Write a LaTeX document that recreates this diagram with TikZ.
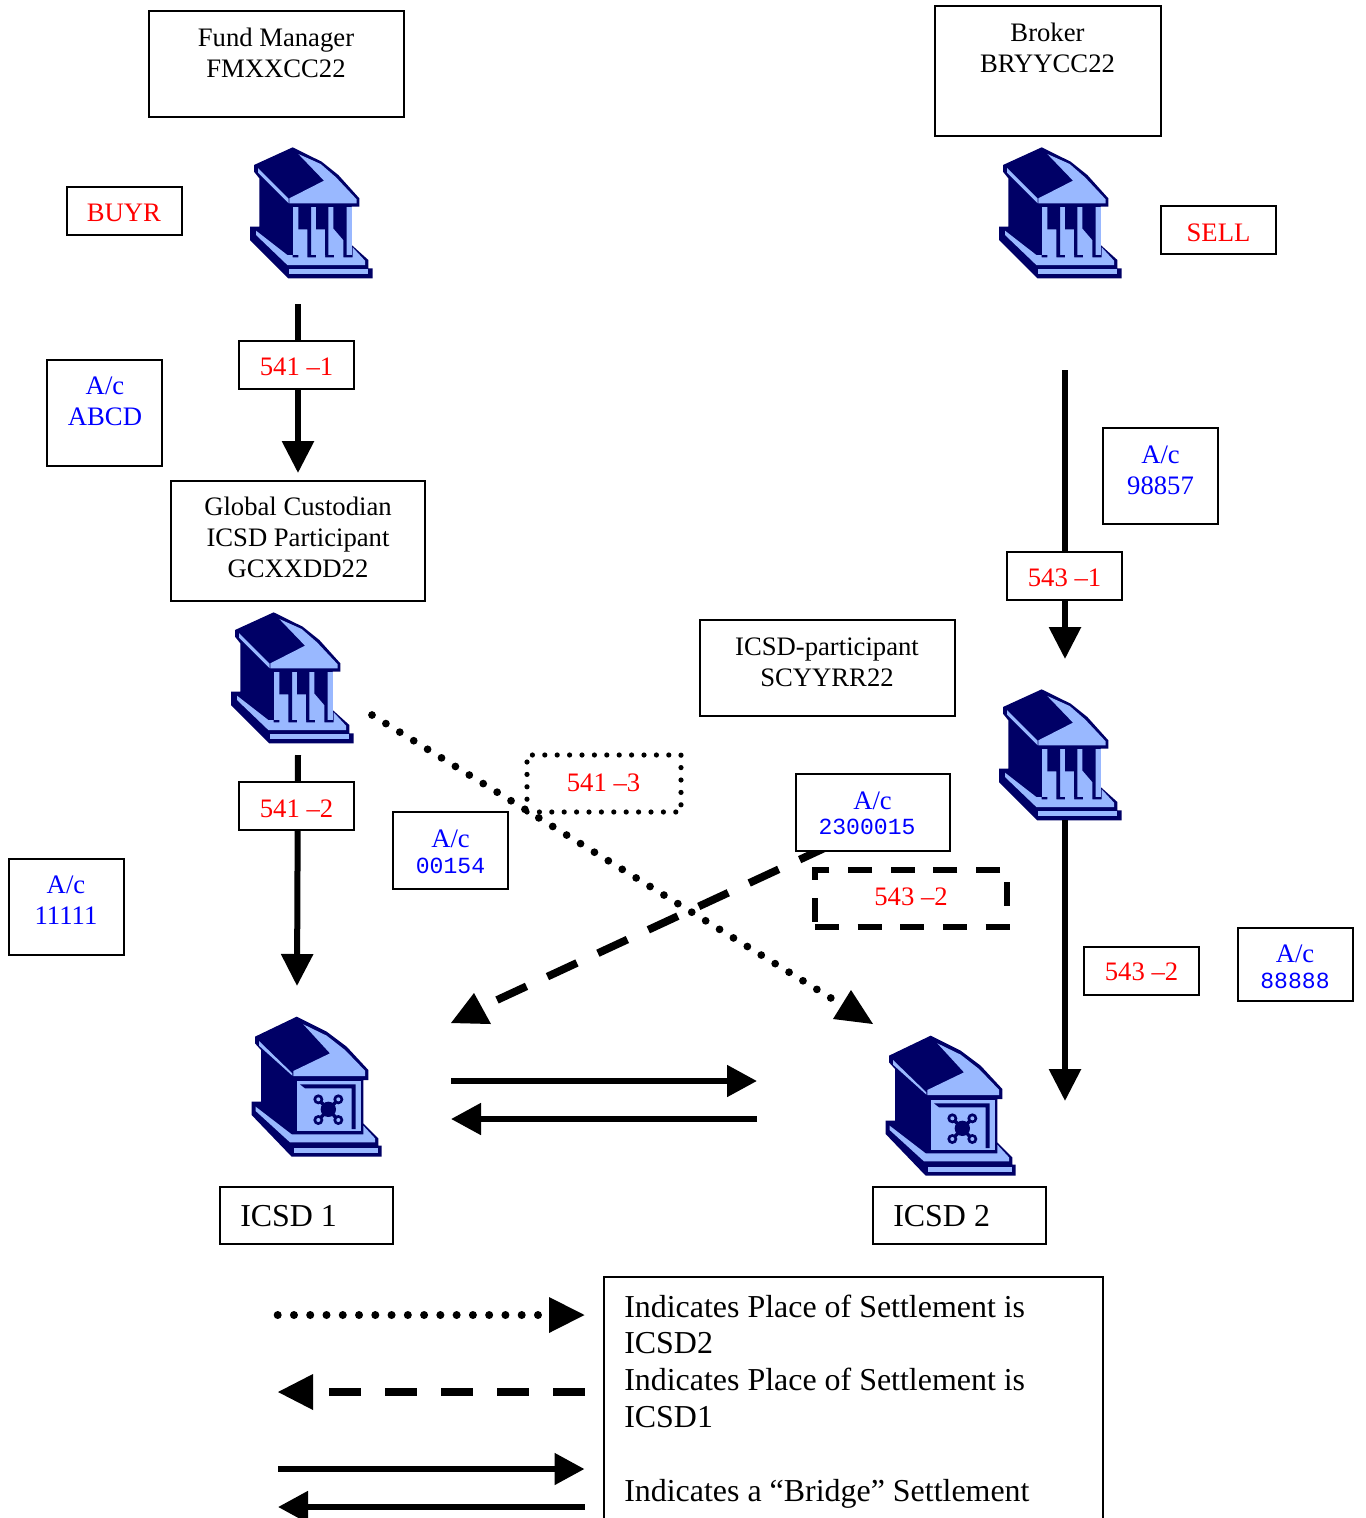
\documentclass[tikz,border=0pt]{standalone}
\usepackage{fontspec}
\setmainfont{Liberation Serif}
\setmonofont{Liberation Mono}
\usetikzlibrary{arrows.meta}
\definecolor{navy}{HTML}{000066}
\definecolor{pale}{HTML}{99B8FF}
\definecolor{txtred}{HTML}{FF0000}
\definecolor{txtblue}{HTML}{0000FF}
\newcommand{\stdf}{\fontsize{20}{23.25}\selectfont}
\newcommand{\bigf}{\fontsize{23.95}{27}\selectfont}
\newcommand{\monof}{\fontsize{17.3}{20}\selectfont\ttfamily}
\tikzset{
  boxst/.style={draw=black,line width=1.5pt,fill=white,inner sep=0pt,outer sep=0pt},
  plainbox/.style={inner sep=0pt,outer sep=0pt},
  dotstroke/.style={draw=black,line width=3.9pt,line cap=round,dash pattern=on 0pt off 9.3pt},
  dashstroke/.style={draw=black,line width=4pt,dash pattern=on 18pt off 14pt},
  txt/.style={align=center,inner sep=0pt,font=\stdf},
  txtl/.style={align=left,inner sep=0pt,anchor=west,font=\bigf},
  solidarrow/.style={line width=4.5pt,-{Triangle[length=24pt,width=23.25pt]}},
  thinarrow/.style={line width=4.5pt,-{Triangle[length=22.5pt,width=23pt]}},
  dotline/.style={line width=5.8pt,line cap=round,dash pattern=on 0pt off 12.25pt},
  dashline/.style={line width=5.8pt,dash pattern=on 24.4pt off 17.3pt},
}
% box: [style]{name}{x1}{y1}{x2}{y2}
\newcommand{\bx}[6][boxst]{%
  \pgfmathsetmacro{\cxv}{(#3+#5)/2}\pgfmathsetmacro{\cyv}{(#4+#6)/2}%
  \pgfmathsetmacro{\wv}{(#5-#3)*0.75}\pgfmathsetmacro{\hv}{(#6-#4)*0.75}%
  \node[#1,minimum width=\wv pt,minimum height=\hv pt] (#2) at (\cxv,\cyv) {};}
\newcommand{\bankicon}[2]{%
\begin{scope}[shift={(#1,#2)},x=0.25pt,y=-0.25pt]
 \fill[navy] (188,22)--(275,65)--(325,105)--(388,175)--(388,200)--(365,200)--(365,315)--(415,360)--(415,385)--(428,385)--(428,415)--(175,415)--(60,300)--(60,260)--(88,260)--(88,115)--(72,95)--(72,75)--cycle;
 \fill[pale] (205,42)--(272,72)--(318,112)--(380,178)--(380,190)--(178,190)--(178,175)--(282,122)--cycle;
 \fill[pale] (84,84)--(176,176)--(176,190)--(84,98)--cycle;
 \fill[pale] (188,200)--(365,200)--(365,345)--(188,345)--cycle;
 \fill[navy] (205,200)--(243,200)--(243,345)--(232,345)--(232,268)--(205,268)--cycle;
 \fill[navy] (258,200)--(295,200)--(295,345)--(285,345)--(285,268)--(258,268)--cycle;
 \fill[navy] (310,200)--(350,200)--(350,345)--(340,345)--(340,300)--(310,265)--cycle;
 \fill[pale] (78,272)--(172,345)--(188,345)--(188,352)--(205,352)--(205,345)--(232,345)--(232,352)--(258,352)--(258,345)--(285,345)--(285,352)--(312,352)--(312,345)--(340,345)--(340,352)--(368,352)--(368,322)--(405,362)--(405,375)--(172,375)--(78,285)--cycle;
 \fill[pale] (178,388)--(415,388)--(415,403)--(178,403)--cycle;
\end{scope}}
\newcommand{\vaulticon}[2]{%
\begin{scope}[shift={(#1,#2)},x=0.25pt,y=-0.25pt]
 \fill[navy] (185,35)--(275,80)--(335,125)--(400,195)--(400,225)--(385,225)--(385,355)--(430,400)--(430,422)--(440,422)--(440,455)--(170,455)--(50,330)--(50,290)--(78,290)--(78,135)--(60,115)--(60,95)--cycle;
 \fill[pale] (205,58)--(275,92)--(330,135)--(390,197)--(390,213)--(175,213)--(175,198)--(285,145)--cycle;
 \fill[pale] (72,108)--(172,205)--(172,212)--(72,122)--cycle;
 \fill[pale] (185,228)--(378,228)--(378,378)--(185,378)--cycle;
 \fill[navy] (195,238)--(362,238)--(362,372)--(350,372)--(350,250)--(210,250)--cycle;
 \draw[navy,line width=2.6pt] (250,283)--(310,345) (310,283)--(250,345);
 \fill[navy] (280,313) circle[radius=23];
 \foreach \kx/\ky in {250/283,310/283,250/345,310/345}{
   \fill[navy] (\kx,\ky) circle[radius=15];
   \fill[pale] (\kx,\ky) circle[radius=6];}
 \fill[pale] (62,305)--(170,388)--(385,388)--(385,362)--(420,400)--(420,412)--(165,412)--(62,318)--cycle;
 \fill[pale] (178,428)--(430,428)--(430,445)--(178,445)--cycle;
\end{scope}}
\begin{document}
\begin{tikzpicture}[x=0.75pt,y=-0.75pt]
\useasboundingbox (0,0) rectangle (1365,1518);
\fill[white] (0,0) rectangle (1365,1518);

% icons
\bankicon{230}{140}
\bankicon{979}{140}
\bankicon{211}{605}
\bankicon{979}{682}
\vaulticon{235}{1005}
\vaulticon{869}{1024}

% connector ends
\coordinate (a1s) at (298,304); \coordinate (a1e) at (298,473);
\coordinate (a2s) at (1065,370); \coordinate (a2e) at (1065,659);
\coordinate (a3s) at (298,755); \coordinate (a3e) at (297,986);
\coordinate (a4s) at (1065,820); \coordinate (a4e) at (1065,1101);
\coordinate (dots) at (372,715); \coordinate (dote) at (831.2,998.2);
\coordinate (dashs) at (829,846); \coordinate (dashe) at (497,1000);
\coordinate (b1s) at (451,1081); \coordinate (b1e) at (757,1081);
\coordinate (b2s) at (757,1119); \coordinate (b2e) at (451,1119);
\coordinate (l1s) at (277.7,1315); \coordinate (l1e) at (584.5,1315);
\coordinate (l2s) at (584.5,1392); \coordinate (l2e) at (278,1392);
\coordinate (l3s) at (278,1469); \coordinate (l3e) at (584.5,1469);
\coordinate (l4s) at (584.5,1507); \coordinate (l4e) at (278,1507);

\draw[solidarrow] (a1s)--(a1e);
\draw[solidarrow] (a2s)--(a2e);
\draw[solidarrow] (a3s)--(a3e);
\draw[solidarrow] (a4s)--(a4e);
\draw[dotline] (dots)--(dote);
\draw[dashline] (dashe)--(dashs);
\fill (851,990)--(833,1019)--(873,1024)--cycle;
\fill (474,993)--(451,1023)--(491,1024)--cycle;
\draw[thinarrow] (b1s)--(b1e);
\draw[thinarrow] (b2s)--(b2e);

% legend connectors
\draw[dotline,line width=6pt,dash pattern=on 0pt off 12.2pt,shorten >=34pt] (l1s)--(l1e);
\fill (l1e)--(549,1297)--(549,1333)--cycle;
\draw[dashline,line width=6pt,dash pattern=on 24pt off 18pt,shorten >=38pt] (l2s)--(l2e);
\fill (l2e)--(313,1374)--(313,1410)--cycle;
\draw[thinarrow] (l3s)--(l3e);
\draw[thinarrow] (l4s)--(l4e);

% boxes
\bx{fund}{149}{11}{404}{117}
\bx{broker}{935}{6}{1161}{136}
\bx{buyr}{67}{187}{182}{235}
\bx{sell}{1161}{206}{1276}{254}
\bx{m1}{239}{341}{354}{389}
\bx{acabcd}{47}{360}{162}{466}
\bx{glob}{170.5}{481}{425}{601}
\bx{ac98}{1103}{428}{1218}{524}
\bx{m431}{1007}{552}{1122}{600}
\bx{part}{700}{620}{955}{716}
\bx{m2}{239}{782}{354}{830}
\bx{ac11}{9}{859}{124}{955}
\bx{ac00}{393}{812}{508}{889}
\bx[plainbox]{m3}{527}{755}{681}{812}
\draw[dotstroke] (m3.south west)--(m3.south east)--(m3.north east)--(m3.north west)--cycle;
\bx{ac23}{796}{774}{950}{851}
\bx[plainbox]{m432}{815}{870}{1007}{927}
\draw[dashstroke] (m432.south west)--(m432.south east)--(m432.north east)--(m432.north west)--cycle;
\bx{m432b}{1084}{947}{1199}{995}
\bx{ac88}{1238}{928}{1353}{1001}
\bx{icsd1}{220}{1187}{393}{1244}
\bx{icsd2}{873}{1187}{1046}{1244}
\bx{legend}{604}{1277}{1103}{1530}

% texts
\node[txt] (tfund) at (276,56) {\strut Fund Manager\\\strut FMXXCC22};
\node[txt] (tbroker) at (1047.5,51) {\strut Broker\\\strut BRYYCC22};
\node[txt,text=txtred] (tbuyr) at (124,215.5) {\strut BUYR};
\node[txt,text=txtred] (tsell) at (1218.5,235.5) {\strut SELL};
\node[txt,text=txtred] (tm1) at (296.5,369.5) {\strut 541 –1};
\node[txt,text=txtblue] (tabcd) at (105,403.5) {\strut A/c\\\strut ABCD};
\node[txt] (tglob) at (298,540.5) {\strut Global Custodian\\\strut ICSD Participant\\\strut GCXXDD22};
\node[txt,text=txtblue] (t98) at (1160.5,472.5) {\strut A/c\\\strut 98857};
\node[txt,text=txtred] (tm431) at (1064.5,580.5) {\strut 543 –1};
\node[txt] (tpart) at (827,665) {\strut ICSD-participant\\\strut SCYYRR22};
\node[txt,text=txtred] (tm2) at (296.5,811.5) {\strut 541 –2};
\node[txt,text=txtblue] (t11) at (66,902.5) {\strut A/c\\\strut 11111};
\node[txt,text=txtblue] (t00a) at (450.5,841) {\strut A/c};
\node[txt,text=txtblue,font=\monof] (t00b) at (450.5,868) {\strut 00154};
\node[txt,text=txtred] (tm3) at (603.5,785.5) {\strut 541 –3};
\node[txt,text=txtblue] (t23a) at (872.5,803) {\strut A/c};
\node[txt,text=txtblue,font=\monof] (t23b) at (867,829) {\strut 2300015};
\node[txt,text=txtred] (tm432) at (911,899.5) {\strut 543 –2};
\node[txt,text=txtred] (tm432b) at (1141.5,974.5) {\strut 543 –2};
\node[txt,text=txtblue] (t88a) at (1295,956) {\strut A/c};
\node[txt,text=txtblue,font=\monof] (t88b) at (1295,983) {\strut 88888};
\node[txtl] (ticsd1) at (240,1219) {\strut ICSD 1};
\node[txtl] (ticsd2) at (893,1219) {\strut ICSD 2};
\node[txtl] (leg1) at (624,1310) {\strut Indicates Place of Settlement is};
\node[txtl] (leg2) at (624,1346) {\strut ICSD2};
\node[txtl] (leg3) at (624,1383) {\strut Indicates Place of Settlement is};
\node[txtl] (leg4) at (624,1420) {\strut ICSD1};
\node[txtl] (leg5) at (624,1494) {\strut Indicates a “Bridge” Settlement};
\end{tikzpicture}
\end{document}
